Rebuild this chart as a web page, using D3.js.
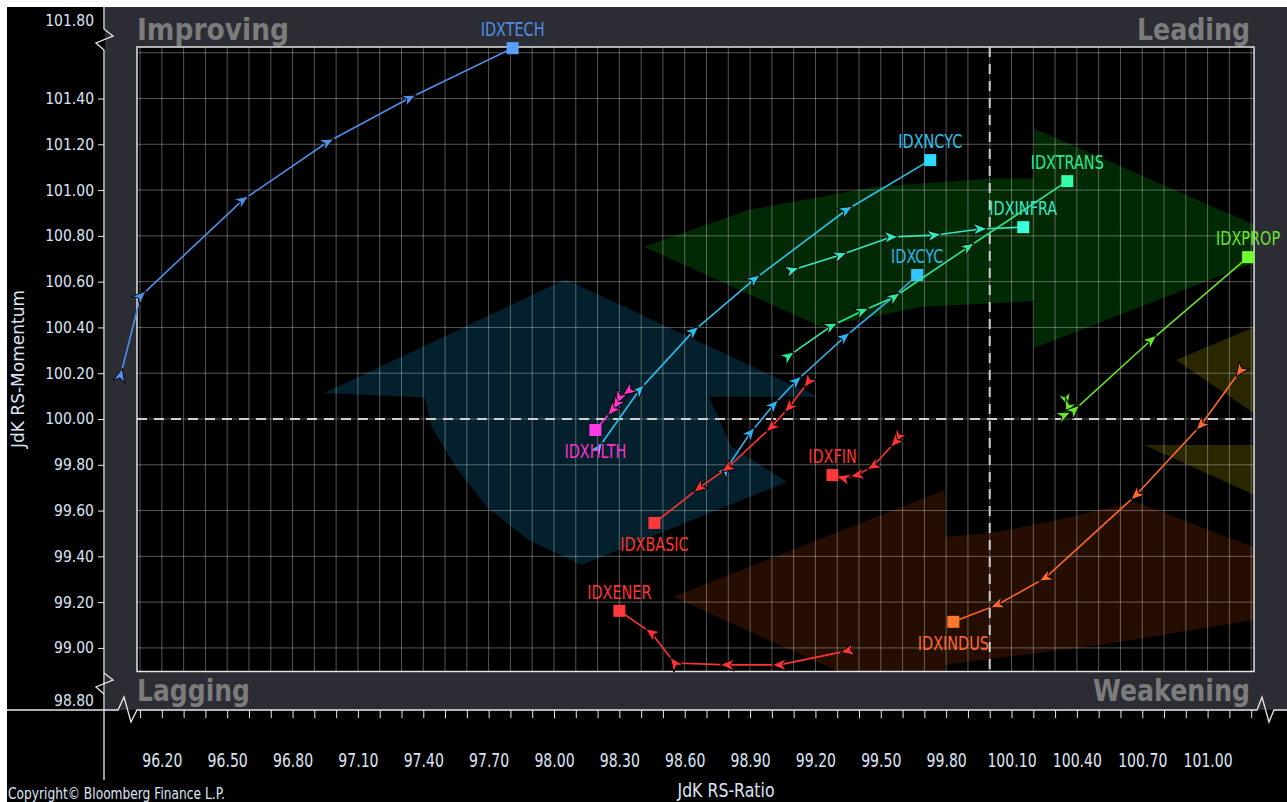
<!DOCTYPE html>
<html>
<head>
<meta charset="utf-8">
<script src="https://cdn.jsdelivr.net/npm/d3@7"></script>
<style>
  body { margin: 0; background: #000; }
  svg { display: block; }
</style>
</head>
<body>
<svg id="chart" width="1287" height="802"></svg>
<script>
// ---- data (JdK RS-Ratio, JdK RS-Momentum), oldest -> latest ----
const xTickLabels = [96.2, 96.5, 96.8, 97.1, 97.4, 97.7, 98.0, 98.3, 98.6, 98.9, 99.2, 99.5, 99.8, 100.1, 100.4, 100.7, 101.0];
const yTickLabels = [98.8, 99.0, 99.2, 99.4, 99.6, 99.8, 100.0, 100.2, 100.4, 100.6, 100.8, 101.0, 101.2, 101.4, 101.8];
const quadrantNames = ['Improving', 'Leading', 'Lagging', 'Weakening'];

const idxtech  = [[96.011, 100.192], [96.103, 100.537], [96.571, 100.956], [96.961, 101.210], [97.337, 101.402], [97.810, 101.620]];
const idxncyc  = [[98.204, 99.873], [98.392, 100.127], [98.640, 100.384], [98.920, 100.611], [99.342, 100.913], [99.727, 101.131]];
const idxcyc   = [[98.787, 99.777], [98.901, 99.939], [99.007, 100.061], [99.112, 100.166], [99.333, 100.358], [99.557, 100.533], [99.667, 100.629]];
const idxtrans = [[99.076, 100.275], [99.273, 100.406], [99.415, 100.472], [99.562, 100.533], [99.901, 100.751], [100.356, 101.039]];
const idxinfra = [[99.094, 100.651], [99.314, 100.716], [99.548, 100.795], [99.745, 100.803], [99.956, 100.830], [100.154, 100.838]];
const idxprop  = [[100.351, 100.083], [100.360, 100.052], [100.342, 100.017], [100.388, 100.039], [100.741, 100.345], [101.186, 100.707]];
const idxhlth  = [[98.342, 100.122], [98.300, 100.092], [98.287, 100.066], [98.268, 100.039], [98.190, 99.952]];
const idxbasic = [[99.167, 100.162], [99.080, 100.052], [98.998, 99.965], [98.796, 99.786], [98.667, 99.699], [98.461, 99.546]];
const idxfin   = [[99.580, 99.921], [99.567, 99.900], [99.466, 99.795], [99.392, 99.755], [99.328, 99.742], [99.278, 99.755]];
const idxener  = [[99.346, 98.987], [99.034, 98.926], [98.796, 98.926], [98.553, 98.934], [98.447, 99.066], [98.300, 99.162]];
const idxindus = [[101.149, 100.210], [100.970, 99.974], [100.672, 99.668], [100.255, 99.306], [100.034, 99.188], [99.833, 99.114]];

const seriesNames  = ['IDXTECH', 'IDXNCYC', 'IDXCYC', 'IDXTRANS', 'IDXINFRA', 'IDXPROP', 'IDXHLTH', 'IDXBASIC', 'IDXFIN', 'IDXENER', 'IDXINDUS'];
const seriesPoints = [idxtech, idxncyc, idxcyc, idxtrans, idxinfra, idxprop, idxhlth, idxbasic, idxfin, idxener, idxindus];
const seriesColors = ['#4f8fe8', '#27c3ec', '#2fb0ec', '#2ee896', '#33e8c4', '#66e62a', '#ff33cc', '#ff3333', '#ff3333', '#ff3333', '#ff6a28'];
const labelSide    = ['above', 'above', 'above', 'above', 'above', 'above', 'below', 'below', 'above', 'above', 'below'];

// rotation arrows in the background, in chart units
const arrowBlue  = [[98.052, 100.610], [99.209, 100.097], [98.711, 100.097], [98.814, 99.879], [99.070, 99.726], [98.126, 99.362],
                    [97.881, 99.472], [97.690, 99.617], [97.548, 99.792], [97.438, 99.966], [97.406, 100.095], [96.944, 100.112]];
const arrowGreen = [[98.414, 100.752], [98.892, 100.913], [99.479, 101.014], [100.011, 101.051], [100.204, 101.051], [100.204, 101.269],
                    [101.424, 100.760], [100.204, 100.310], [100.204, 100.515], [99.695, 100.490], [99.226, 100.403]];
const arrowBrown = [[98.548, 99.223], [99.794, 99.690], [99.794, 99.486], [100.007, 99.502], [100.282, 99.552], [100.667, 99.639],
                    [101.424, 99.362], [101.424, 99.144], [101.213, 99.122], [100.507, 99.013], [99.794, 98.926], [99.794, 98.686]];
const arrowOliveA = [[100.855, 100.258], [101.305, 100.437], [101.305, 99.965]];
const arrowOliveB = [[100.709, 99.886], [101.305, 99.886], [101.305, 99.629]];
const arrowShapes = [arrowBlue, arrowGreen, arrowBrown, arrowOliveA, arrowOliveB];
const arrowColors = ['#03202c', '#012904', '#260d02', '#292600', '#292600'];

// ---- layout ----
const W = 1287, H = 802;
const plot = { left: 137, right: 1254, top: 47, bottom: 671.5 };
const axisX = 104, axisY = 710;
const panelColor = '#2c2c34';
const textColor = '#dce5f4';
const baseFont = "'DejaVu Sans', sans-serif";

const svg = d3.select('#chart');

const x = d3.scaleLinear().domain([96.086, 101.213]).range([plot.left, plot.right]);
const y = d3.scaleLinear().domain([98.897, 101.625]).range([plot.bottom, plot.top]);
// y axis is broken at both ends
const yAxisScale = d3.scaleLinear()
    .domain([98.80, 98.897, 101.625, 101.80])
    .range([701, plot.bottom, plot.top, 21]);

// background
svg.append('rect').attr('width', W).attr('height', H).attr('fill', '#000');
svg.append('rect').attr('x', 0).attr('y', 0).attr('width', W).attr('height', 7).attr('fill', '#fff');
svg.append('rect').attr('x', 0).attr('y', 0).attr('width', 7).attr('height', H).attr('fill', '#fff');
svg.append('rect')
    .attr('x', axisX + 1).attr('y', 7)
    .attr('width', W - axisX - 1).attr('height', axisY - 7)
    .attr('fill', panelColor);
svg.append('rect')
    .attr('x', plot.left).attr('y', plot.top)
    .attr('width', plot.right - plot.left).attr('height', plot.bottom - plot.top)
    .attr('fill', '#000');

// quadrant names
const quadPos = [
    { x: plot.left, y: 40, anchor: 'start', len: 152 },
    { x: plot.right - 4, y: 40, anchor: 'end', len: 113 },
    { x: plot.left, y: 701, anchor: 'start', len: 113 },
    { x: plot.right - 4, y: 701, anchor: 'end', len: 157 }
];
svg.append('g').selectAll('text')
    .data(quadrantNames)
    .enter()
    .append('text')
    .attr('x', (d, i) => quadPos[i].x)
    .attr('y', (d, i) => quadPos[i].y)
    .attr('text-anchor', (d, i) => quadPos[i].anchor)
    .attr('textLength', (d, i) => quadPos[i].len)
    .attr('lengthAdjust', 'spacingAndGlyphs')
    .style('font-family', baseFont)
    .style('font-weight', 'bold')
    .style('font-size', '31px')
    .style('fill', '#7c7c7c')
    .text(d => d);

// background rotation arrows, clipped to the plot
svg.append('clipPath').attr('id', 'plot-clip')
    .append('rect')
    .attr('x', plot.left).attr('y', plot.top)
    .attr('width', plot.right - plot.left).attr('height', plot.bottom - plot.top);

const shapeLine = d3.line().x(d => x(d[0])).y(d => y(d[1]));
svg.append('g').attr('clip-path', 'url(#plot-clip)')
    .selectAll('path')
    .data(arrowShapes)
    .enter()
    .append('path')
    .attr('d', d => shapeLine(d) + 'Z')
    .attr('fill', (d, i) => arrowColors[i]);

// grid
const vGrid = d3.range(961, 1013).map(v => v / 10);
const hGrid = d3.range(990, 1017, 2).map(v => v / 10);
const grid = svg.append('g');
grid.selectAll('line.v')
    .data(vGrid)
    .enter()
    .append('line')
    .attr('x1', d => x(d)).attr('x2', d => x(d))
    .attr('y1', plot.top).attr('y2', plot.bottom)
    .attr('stroke', '#ffffff').attr('stroke-opacity', 0.33).attr('stroke-width', 1);
grid.selectAll('line.h')
    .data(hGrid)
    .enter()
    .append('line')
    .attr('x1', plot.left).attr('x2', plot.right)
    .attr('y1', d => y(d)).attr('y2', d => y(d))
    .attr('stroke', '#ffffff').attr('stroke-opacity', 0.33).attr('stroke-width', 1);

// centre lines at 100
grid.append('line')
    .attr('x1', x(100)).attr('x2', x(100))
    .attr('y1', plot.top).attr('y2', plot.bottom)
    .attr('stroke', '#d0d0d0').attr('stroke-width', 2).attr('stroke-dasharray', '10,7');
grid.append('line')
    .attr('x1', plot.left).attr('x2', plot.right)
    .attr('y1', y(100)).attr('y2', y(100))
    .attr('stroke', '#d0d0d0').attr('stroke-width', 2).attr('stroke-dasharray', '10,7');

// plot frame
svg.append('rect')
    .attr('x', plot.left).attr('y', plot.top)
    .attr('width', plot.right - plot.left).attr('height', plot.bottom - plot.top)
    .attr('fill', 'none').attr('stroke', '#e4e4e4').attr('stroke-width', 1.5);

// ---- axes ----
const axisColor = '#e8e8e8';
const zig = d3.line();

// y axis line with breaks
const yTop = yAxisScale(101.80) + 8, yBot = yAxisScale(98.80) - 8;
svg.append('path')
    .attr('d', zig([[axisX, 7], [axisX, yTop], [axisX + 9, yTop + 7], [axisX - 8, yTop + 14], [axisX, yTop + 21], [axisX, 780]]))
    .attr('fill', 'none').attr('stroke', axisColor).attr('stroke-width', 1.3);
svg.append('path')
    .attr('d', zig([[axisX, yBot - 20], [axisX + 9, yBot - 13], [axisX - 8, yBot - 6], [axisX, yBot + 1]]))
    .attr('fill', 'none').attr('stroke', axisColor).attr('stroke-width', 1.3);

const yAxis = d3.axisLeft(yAxisScale)
    .tickValues(yTickLabels)
    .tickSize(6)
    .tickPadding(4)
    .tickFormat(d3.format('.2f'));
const yAxisG = svg.append('g')
    .attr('transform', `translate(${axisX},0)`)
    .call(yAxis);
yAxisG.select('.domain').remove();
yAxisG.selectAll('line')
    .attr('stroke', axisColor)
    .attr('x2', d => (d === 98.8 || d === 101.8) ? 0 : -6);
yAxisG.selectAll('text')
    .style('font-family', "'DejaVu Sans Condensed', 'DejaVu Sans', sans-serif")
    .style('font-size', '15.5px')
    .style('fill', textColor);

// x axis line with breaks
const xl = plot.left, xr = plot.right;
svg.append('path')
    .attr('d', zig([[7, axisY], [xl - 19, axisY], [xl - 13, axisY - 13], [xl - 6, axisY + 12], [xl, axisY],
                    [xr + 3, axisY], [xr + 8, axisY - 13], [xr + 15, axisY + 12], [xr + 20, axisY], [W, axisY]]))
    .attr('fill', 'none').attr('stroke', axisColor).attr('stroke-width', 1.3);

const xMinor = d3.axisBottom(x).tickValues(vGrid).tickSize(8).tickFormat('');
const xMinorG = svg.append('g').attr('transform', `translate(0,${axisY})`).call(xMinor);
xMinorG.select('.domain').remove();
xMinorG.selectAll('line').attr('stroke', axisColor);

const xAxis = d3.axisBottom(x)
    .tickValues(xTickLabels)
    .tickSize(0)
    .tickPadding(44)
    .tickFormat(d3.format('.2f'));
const xAxisG = svg.append('g').attr('transform', `translate(0,${axisY})`).call(xAxis);
xAxisG.select('.domain').remove();
xAxisG.selectAll('text')
    .attr('transform', 'scale(0.74,1)')
    .style('font-family', baseFont)
    .style('font-size', '19px')
    .style('fill', textColor);

// axis titles
svg.append('text')
    .attr('transform', 'translate(24,369) rotate(-90)')
    .attr('text-anchor', 'middle')
    .style('font-family', baseFont)
    .style('font-size', '17px')
    .style('fill', textColor)
    .text('JdK RS-Momentum');
svg.append('text')
    .attr('transform', 'translate(726,797) scale(0.83,1)')
    .attr('text-anchor', 'middle')
    .style('font-family', baseFont)
    .style('font-size', '19px')
    .style('fill', textColor)
    .text('JdK RS-Ratio');
svg.append('text')
    .attr('x', 8).attr('y', 799)
    .attr('textLength', 217)
    .attr('lengthAdjust', 'spacingAndGlyphs')
    .style('font-family', baseFont)
    .style('font-size', '15px')
    .style('fill', textColor)
    .text('Copyright\u00A9 Bloomberg Finance L.P.');

// ---- series tails ----
const tailLine = d3.line().x(d => x(d[0])).y(d => y(d[1]));
const seriesG = svg.append('g')
    .selectAll('g')
    .data(seriesPoints)
    .enter()
    .append('g');

seriesG.append('path')
    .attr('d', d => tailLine(d))
    .attr('fill', 'none')
    .attr('stroke', (d, i) => seriesColors[i])
    .attr('stroke-width', 1.6);

// arrow heads on every point but the latest, pointing to the next one
seriesG.each(function (pts, i) {
    const heads = pts.slice(0, -1).map((p, k) => {
        const n = pts[k + 1];
        const ang = Math.atan2(y(n[1]) - y(p[1]), x(n[0]) - x(p[0])) * 180 / Math.PI;
        return { p, ang };
    });
    d3.select(this).selectAll('path.head')
        .data(heads)
        .enter()
        .append('path')
        .attr('class', 'head')
        .attr('d', 'M7,0 L-7,-6 L-3,0 L-7,6 Z')
        .attr('transform', d => `translate(${x(d.p[0])},${y(d.p[1])}) rotate(${d.ang})`)
        .attr('fill', seriesColors[i])
        .attr('stroke', '#000')
        .attr('stroke-width', 0.9);
});

// latest point square
seriesG.append('rect')
    .attr('x', d => x(d[d.length - 1][0]) - 6)
    .attr('y', d => y(d[d.length - 1][1]) - 6)
    .attr('width', 12).attr('height', 12)
    .attr('fill', (d, i) => d3.color(seriesColors[i]).brighter(0.3));

// series labels (narrow face)
seriesG.append('text')
    .attr('transform', (d, i) => {
        const last = d[d.length - 1];
        const dy = labelSide[i] === 'above' ? -12 : 28;
        return `translate(${x(last[0])},${y(last[1]) + dy}) scale(0.76,1)`;
    })
    .attr('text-anchor', 'middle')
    .style('font-family', baseFont)
    .style('font-size', '19px')
    .style('fill', (d, i) => seriesColors[i])
    .text((d, i) => seriesNames[i]);
</script>
</body>
</html>
